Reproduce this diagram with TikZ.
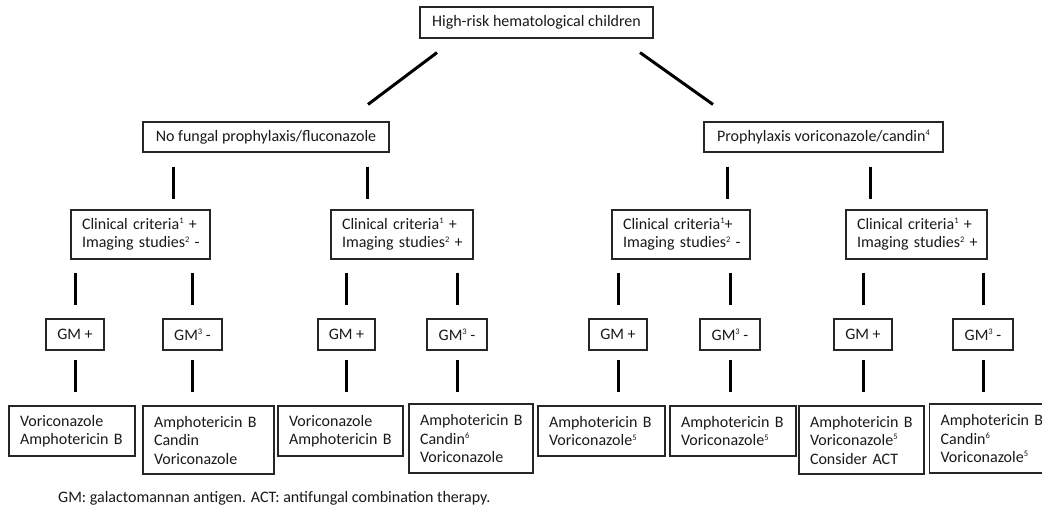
\documentclass[tikz,border=0pt]{standalone}
\usepackage{fontspec}
\setmainfont{Carlito}
\newcommand\fs{\fontsize{16}{18.5}\selectfont}
\newcommand\sx[1]{\raisebox{0.75ex}{\fontsize{8.5}{8.5}\selectfont #1}}
\newcommand\ml[1]{\mbox{#1}}
\begin{document}
\begin{tikzpicture}[x=1pt,y=1pt,
  box/.style={draw=black!85, line width=1.1pt, inner sep=0pt, font=\fs, text=black!90},
  lbox/.style={box, align=left, inner xsep=11pt, text width=#1},
  cbox/.style={box, align=center},
  conn/.style={line width=3pt}]
\useasboundingbox (0,0) rectangle (1042,-507);
% level 0 and 1
\node[cbox, minimum width=233, minimum height=31] (top) at (536.5,-22.5) {High-risk hematological children};
\node[cbox, minimum width=246, minimum height=30] (nf) at (266,-137) {No fungal prophylaxis/fluconazole};
\node[cbox, minimum width=239, minimum height=30] (pr) at (823.5,-137) {Prophylaxis voriconazole/candin\sx{4}};
% clinical
\node[lbox=117, minimum height=49] (c1) at (140.5,-234.5) {\ml{Clinical criteria\sx{1} +}\\\ml{Imaging studies\sx{2} -}};
\node[lbox=120, minimum height=49] (c2) at (402,-234.5) {\ml{Clinical criteria\sx{1} +}\\\ml{Imaging studies\sx{2} +}};
\node[lbox=116, minimum height=49] (c3) at (681,-234.5) {\ml{Clinical criteria\sx{1}+}\\\ml{Imaging studies\sx{2} -}};
\node[lbox=119, minimum height=49] (c4) at (916.5,-234.5) {\ml{Clinical criteria\sx{1} +}\\\ml{Imaging studies\sx{2} +}};
% GM
\node[cbox, minimum width=58, minimum height=31] (g1) at (75,-334.5) {GM +};
\node[cbox, minimum width=59, minimum height=31] (g2) at (192.5,-334.5) {GM\sx{3} -};
\node[cbox, minimum width=57, minimum height=31] (g3) at (346.5,-334.5) {GM +};
\node[cbox, minimum width=60, minimum height=31] (g4) at (457,-334.5) {GM\sx{3} -};
\node[cbox, minimum width=58, minimum height=31] (g5) at (618,-334.5) {GM +};
\node[cbox, minimum width=60, minimum height=31] (g6) at (730,-334.5) {GM\sx{3} -};
\node[cbox, minimum width=58, minimum height=31] (g7) at (863,-334.5) {GM +};
\node[cbox, minimum width=60, minimum height=31] (g8) at (983,-334.5) {GM\sx{3} -};
% results
\node[lbox=104, minimum height=50] (r1) at (72,-431) {\ml{Voriconazole}\\\ml{Amphotericin B}};
\node[lbox=109, minimum height=68] (r2) at (208.5,-440) {\ml{Amphotericin B}\\\ml{Candin}\\\ml{Voriconazole}};
\node[lbox=103, minimum height=50] (r3) at (340.5,-431) {\ml{Voriconazole}\\\ml{Amphotericin B}};
\node[lbox=102, minimum height=69] (r4) at (471,-438.5) {\ml{Amphotericin B}\\\ml{Candin\sx{6}}\\\ml{Voriconazole}};
\node[lbox=105, minimum height=50] (r5) at (601.5,-431) {\ml{Amphotericin B}\\\ml{Voriconazole\sx{5}}};
\node[lbox=104, minimum height=50] (r6) at (733,-431) {\ml{Amphotericin B}\\\ml{Voriconazole\sx{5}}};
\node[lbox=103, minimum height=68] (r7) at (861.5,-440) {\ml{Amphotericin B}\\\ml{Voriconazole\sx{5}}\\\ml{Consider ACT}};
\node[lbox=116, minimum height=69, anchor=west] (r8) at (929,-438.5) {\ml{Amphotericin B}\\\ml{Candin\sx{6}}\\\ml{Voriconazole\sx{5}}};
% footer
\node[anchor=west, font=\fs, text=black!90, inner sep=0pt] (foot) at (58,-498) {GM: galactomannan antigen. ACT: antifungal combination therapy.};
% connectors
\draw[conn] ([shift={(-99.5,-14)}]top.south) -- ([shift={(102,17)}]nf.north);
\draw[conn] ([shift={(103.5,-14)}]top.south) -- ([shift={(-110.5,17)}]pr.north);
\begin{scope}[shorten <=14pt, shorten >=10pt]
\draw[conn] ([xshift=-93pt]nf.south) -- ([xshift=-93pt]nf.south |- c1.north);
\draw[conn] ([xshift=101pt]nf.south) -- ([xshift=101pt]nf.south |- c2.north);
\draw[conn] ([xshift=-96.5pt]pr.south) -- ([xshift=-96.5pt]pr.south |- c3.north);
\draw[conn] ([xshift=46.5pt]pr.south) -- ([xshift=46.5pt]pr.south |- c4.north);
\end{scope}
\begin{scope}[shorten <=13pt, shorten >=13pt]
\draw[conn] (c1.south -| g1.north) -- (g1.north);
\draw[conn] (c1.south -| g2.north) -- (g2.north);
\draw[conn] (c2.south -| g3.north) -- (g3.north);
\draw[conn] (c2.south -| g4.north) -- (g4.north);
\draw[conn] (c3.south -| g5.north) -- (g5.north);
\draw[conn] (c3.south -| g6.north) -- (g6.north);
\draw[conn] (c4.south -| g7.north) -- (g7.north);
\draw[conn] (c4.south -| g8.north) -- (g8.north);
\end{scope}
\begin{scope}[shorten <=9pt, shorten >=13pt]
\draw[conn] (g1.south) -- (g1.south |- r1.north);
\draw[conn] (g2.south) -- (g2.south |- r2.north);
\draw[conn] (g3.south) -- (g3.south |- r3.north);
\draw[conn] (g5.south) -- (g5.south |- r5.north);
\draw[conn] (g6.south) -- (g6.south |- r6.north);
\draw[conn] (g7.south) -- (g7.south |- r7.north);
\end{scope}
\begin{scope}[shorten <=9pt, shorten >=11pt]
\draw[conn] (g4.south) -- (g4.south |- r4.north);
\draw[conn] (g8.south) -- (g8.south |- r8.north);
\end{scope}
\end{tikzpicture}
\end{document}
